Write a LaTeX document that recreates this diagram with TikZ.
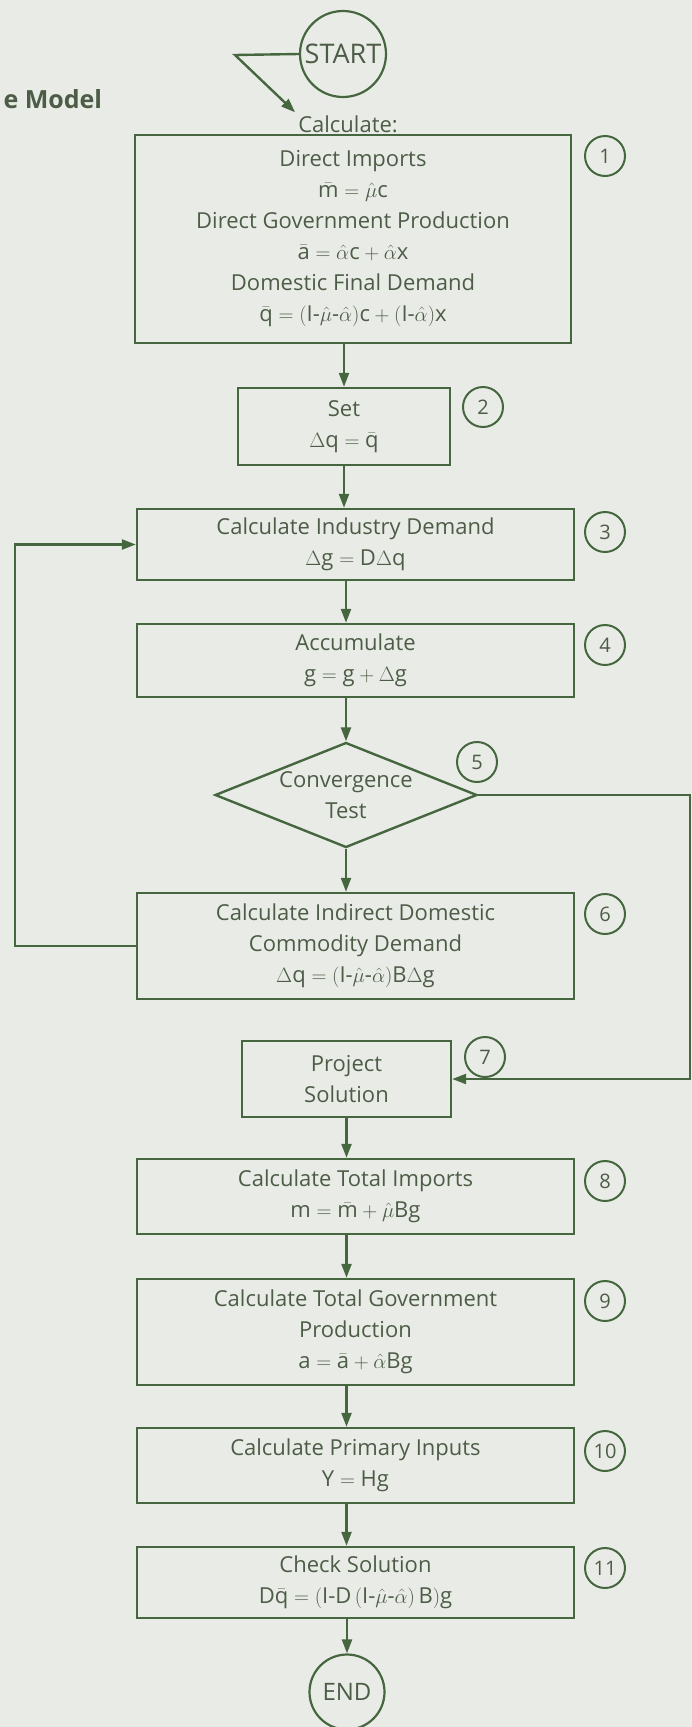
\documentclass[tikz,border=0pt]{standalone}
\usepackage[no-math]{fontspec}
\setmainfont{Open Sans}
\usetikzlibrary{shapes.geometric,arrows.meta,positioning}
\definecolor{paper}{HTML}{E9ECE6}
\definecolor{ink}{HTML}{46663F}
\definecolor{txt}{HTML}{4D5C47}
\newcommand{\tv}[1]{\mbox{#1}}
\newcommand{\mn}{\mbox{-}}

\begin{document}
\begin{tikzpicture}[x=1pt, y=-1pt,
    box/.style={draw=ink, line width=2.4pt, text=txt, align=center, inner sep=0pt, font=\fontsize{22}{31}\selectfont},
    num/.style={draw=ink, circle, line width=2pt, minimum size=40pt, inner sep=0pt, text=txt, font=\fontsize{20}{20}\selectfont},
    arr/.style={draw=ink, line width=2.4pt, -{Triangle[length=14pt,width=10pt]}}]
    \fill[paper] (0,0) rectangle (692,1727);
    \useasboundingbox (0,0) rectangle (692,1727);

    \node[anchor=west, text=txt, font=\fontsize{25}{25}\selectfont\bfseries] (title) at (0,99) {e Model};
    \node[draw=ink, circle, line width=2.2pt, minimum size=86pt, inner sep=0pt, text=txt, font=\fontsize{27}{27}\selectfont] (start) at (343,54) {START};
    \node[text=txt, inner sep=3pt, font=\fontsize{22}{22}\selectfont] (calc) at (348,124) {Calculate:};
    \coordinate (kink) at (235,55);

    \node[box, minimum width=436pt, minimum height=208pt] (direct) at (353,239) {Direct Imports\\ $\bar{\tv{m}} = \hat\mu\tv{c}$\\ Direct Government Production\\ $\bar{\tv{a}} = \hat\alpha\tv{c} + \hat\alpha\tv{x}$\\ Domestic Final Demand\\ $\bar{\tv{q}} = (\tv{I}\mn\hat\mu\mn\hat\alpha)\tv{c} + (\tv{I}\mn\hat\alpha)\tv{x}$};
    \node[box, minimum width=212pt, minimum height=77pt] (set) at (344,426.5) {Set\\ $\Delta\tv{q} = \bar{\tv{q}}$};
    \node[box, minimum width=437pt, minimum height=71pt] (industry) at (355.5,544.5) {Calculate Industry Demand\\ $\Delta\tv{g} = \tv{D}\Delta\tv{q}$};
    \node[box, minimum width=437pt, minimum height=73pt] (accum) at (355.5,660.5) {Accumulate\\ $\tv{g} = \tv{g} + \Delta\tv{g}$};
    \node[box, diamond, aspect=2.5, minimum width=262pt, minimum height=105pt] (conv) at (346,795) {Convergence\\Test};
    \node[box, minimum width=437pt, minimum height=106pt] (indirect) at (355.5,946) {Calculate Indirect Domestic\\ Commodity Demand\\ $\Delta\tv{q} = (\tv{I}\mn\hat\mu\mn\hat\alpha)\tv{B}\Delta\tv{g}$};
    \node[box, minimum width=209pt, minimum height=76pt] (project) at (346.5,1079) {Project\\ Solution};
    \node[box, minimum width=437pt, minimum height=75pt] (totimp) at (355.5,1196.5) {Calculate Total Imports\\ $\tv{m} = \bar{\tv{m}} + \hat\mu\tv{Bg}$};
    \node[box, minimum width=437pt, minimum height=106pt] (totgov) at (355.5,1332) {Calculate Total Government\\ Production\\ $\tv{a} = \bar{\tv{a}} + \hat\alpha\tv{Bg}$};
    \node[box, minimum width=437pt, minimum height=75pt] (primary) at (355.5,1465.5) {Calculate Primary Inputs\\ $\tv{Y} = \tv{Hg}$};
    \node[box, minimum width=437pt, minimum height=71pt] (check) at (355.5,1582.5) {Check Solution\\ $\tv{D}\bar{\tv{q}} = (\tv{I}\mn\tv{D}\,(\tv{I}\mn\hat\mu\mn\hat\alpha)\,\tv{B})\tv{g}$};
    \node[draw=ink, circle, line width=2.2pt, minimum size=75pt, inner sep=0pt, text=txt, font=\fontsize{24}{24}\selectfont] (end) at (347,1692) {END};

    % step numbers
    \node[num] (n1) at (605,156) {1};
    \node[num] (n2) at (483,407) {2};
    \node[num] (n3) at (605,532) {3};
    \node[num] (n4) at (605,645) {4};
    \node[num] (n5) at (477,762) {5};
    \node[num] (n6) at (605,914) {6};
    \node[num] (n7) at (485,1057) {7};
    \node[num] (n8) at (605,1181) {8};
    \node[num] (n9) at (605,1301) {9};
    \node[num] (n10) at (605,1451) {10};
    \node[num] (n11) at (605,1568) {11};

    \coordinate (loopl) at (15,0);
    \coordinate (loopr) at (690,0);

    \draw[arr] (start.west) -- (kink) -- (calc.north west);
    \draw[arr] (direct.south -| set.north) -- (set.north);
    \draw[arr] (set.south) -- (set.south |- industry.north);
    \draw[arr] (industry.south -| conv.north) -- (accum.north -| conv.north);
    \draw[arr] (accum.south -| conv.north) -- (conv.north);
    \draw[arr] (conv.south) -- (conv.south |- indirect.north);
    \draw[arr] (indirect.west) -- (indirect.west -| loopl) |- (industry.west);
    \draw[arr] (conv.east) -- (conv.east -| loopr) |- (project.east);
    \draw[arr] (project.south) -- (project.south |- totimp.north);
    \draw[arr] (totimp.south -| project.south) -- (totgov.north -| project.south);
    \draw[arr] (totgov.south -| project.south) -- (primary.north -| project.south);
    \draw[arr] (primary.south -| project.south) -- (check.north -| project.south);
    \draw[arr] (check.south -| end.north) -- (end.north);
\end{tikzpicture}
\end{document}
